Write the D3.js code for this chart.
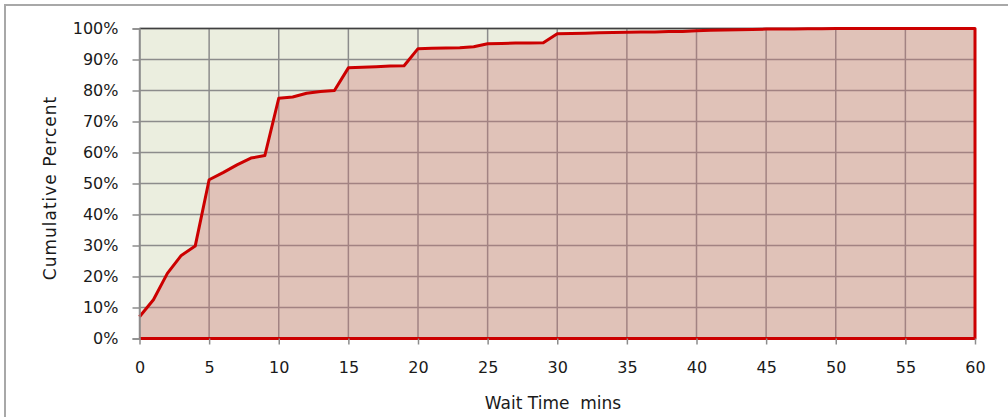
<!DOCTYPE html>
<html>
<head>
<meta charset="utf-8">
<script src="https://cdn.jsdelivr.net/npm/d3@7"></script>
<style>
  body { margin: 0; background: #fff; }
  text { font-family: "DejaVu Sans", sans-serif; fill: #1a1a1a; }
</style>
</head>
<body>
<div id="chart"></div>
<script>
// wait time in minutes, cumulative share of calls answered
var minutes = d3.range(0, 61);
var cumPct = [
  7, 12.5, 21, 26.8, 29.8, 51.2, 53.5, 56, 58.2, 59,
  77.5, 77.9, 79.1, 79.7, 80, 87.3, 87.5, 87.7, 87.9, 88,
  93.5, 93.6, 93.7, 93.8, 94.1, 95.1, 95.2, 95.3, 95.3, 95.4,
  98.3, 98.4, 98.5, 98.6, 98.7, 98.8, 98.9, 98.9, 99, 99,
  99.3, 99.4, 99.5, 99.6, 99.7, 99.8, 99.8, 99.8, 99.9, 99.9,
  100, 100, 100, 100, 100, 100, 100, 100, 100, 100, 100
];
var xTicks = d3.range(0, 61, 5);
var yTicks = d3.range(0, 101, 10);
var xTitle = "Wait Time  mins";
var yTitle = "Cumulative Percent";

var W = 1008, H = 417;
var svg = d3.select("#chart").append("svg")
  .attr("width", W).attr("height", H);

// outer chart frame
svg.append("rect")
  .attr("x", 5).attr("y", 5).attr("width", W + 20).attr("height", H + 20)
  .attr("fill", "#fff").attr("stroke", "#a8a8a8").attr("stroke-width", 2);

var x = d3.scaleLinear().domain([0, 60]).range([139.5, 975]);
var y = d3.scaleLinear().domain([0, 100]).range([338.5, 28.5]);

var pts = minutes.map(function (m, i) { return [m, cumPct[i]]; });

// plot background
svg.append("rect")
  .attr("x", x(0)).attr("y", y(100))
  .attr("width", x(60) - x(0)).attr("height", y(0) - y(100))
  .attr("fill", "#ebeedf");

// gridlines
svg.append("g").selectAll("line").data(yTicks).join("line")
  .attr("x1", x(0)).attr("x2", x(60))
  .attr("y1", function (d) { return y(d); }).attr("y2", function (d) { return y(d); })
  .attr("stroke", "#8c8c8c").attr("stroke-width", 1.5);
svg.append("g").selectAll("line").data(xTicks).join("line")
  .attr("y1", y(0)).attr("y2", y(100))
  .attr("x1", function (d) { return x(d); }).attr("x2", function (d) { return x(d); })
  .attr("stroke", "#8c8c8c").attr("stroke-width", 1.5);

// top edge darker
svg.append("line")
  .attr("x1", x(0)).attr("x2", x(60)).attr("y1", y(100)).attr("y2", y(100))
  .attr("stroke", "#404040").attr("stroke-width", 1.5);

// filled area
var area = d3.area()
  .x(function (d) { return x(d[0]); })
  .y0(y(0))
  .y1(function (d) { return y(d[1]); });
svg.append("path").datum(pts)
  .attr("d", area)
  .attr("fill", "rgba(204,112,112,0.35)");

// red outline: curve, right edge down, bottom back
var outline = pts.concat([[60, 0], [0, 0]]);
var line = d3.line()
  .x(function (d) { return x(d[0]); })
  .y(function (d) { return y(d[1]); });
svg.append("path").datum(outline)
  .attr("d", line)
  .attr("fill", "none")
  .attr("stroke", "#cc0000")
  .attr("stroke-width", 3)
  .attr("stroke-linejoin", "round");

// axes
var yAxis = d3.axisLeft(y).tickValues(yTicks)
  .tickFormat(function (d) { return d + "%"; })
  .tickSize(7).tickPadding(14);
var gy = svg.append("g").attr("transform", "translate(" + x(0) + ",0)").call(yAxis);
gy.select(".domain").attr("stroke", "#8c8c8c").attr("stroke-width", 1.5);
gy.selectAll(".tick line").attr("stroke", "#8c8c8c").attr("stroke-width", 1.5);
gy.selectAll("text").style("font-size", "16px").attr("fill", "#1a1a1a");

var xAxis = d3.axisBottom(x).tickValues(xTicks).tickSize(6).tickPadding(17);
var gx = svg.append("g").attr("transform", "translate(0," + y(0) + ")").call(xAxis);
gx.select(".domain").remove();
gx.selectAll(".tick line").attr("stroke", "#8c8c8c").attr("stroke-width", 1.5);
gx.selectAll("text").style("font-size", "16px").attr("fill", "#1a1a1a");

// axis titles
svg.append("text")
  .attr("x", 553).attr("y", 409)
  .attr("text-anchor", "middle")
  .style("font-size", "17px")
  .style("white-space", "pre")
  .text(xTitle);
svg.append("text")
  .attr("transform", "translate(56,188) rotate(-90)")
  .attr("text-anchor", "middle")
  .style("font-size", "17px")
  .style("letter-spacing", "1px")
  .text(yTitle);
</script>
</body>
</html>
